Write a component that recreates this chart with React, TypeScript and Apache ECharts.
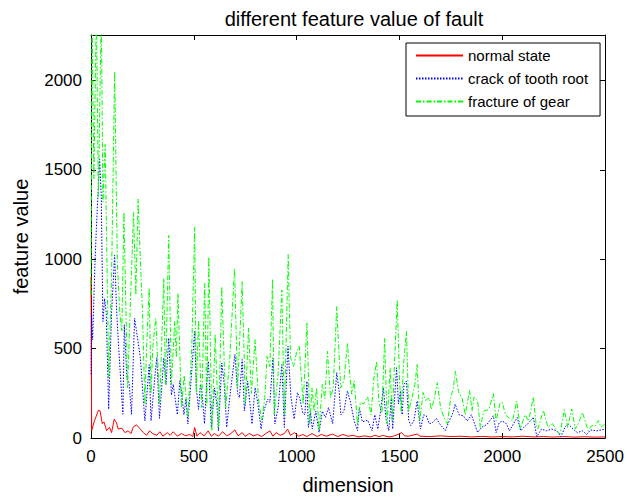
import React, { useEffect, useRef } from "react";
import * as echarts from "echarts";

const titleText = "different feature value of fault";
const xName = "dimension";
const yName = "feature value";
const seriesNames = ["normal state", "crack of tooth root", "fracture of gear"];
const xTicks = [0, 500, 1000, 1500, 2000, 2500];
const yTicks = [0, 500, 1000, 1500, 2000];

const normalPoints: [number, number][] = [
  [0, 900], [3, 40], [15, 90], [36, 155], [44, 152], [55, 80], [63, 90], [76, 41], [90, 60], [100, 30],
  [113, 106], [124, 85], [132, 50], [150, 55], [165, 30], [180, 40], [195, 25], [205, 60], [221, 74], [240, 50],
  [255, 30], [270, 15], [285, 40], [300, 25], [320, 15], [335, 35], [350, 10], [370, 30], [385, 15], [400, 35],
  [420, 10], [440, 25], [460, 12], [480, 20], [495, 8], [504, 59], [515, 10], [530, 30], [550, 12], [570, 40],
  [585, 10], [600, 25], [620, 10], [640, 35], [660, 12], [680, 25], [700, 45], [715, 12], [735, 30], [750, 10],
  [770, 25], [790, 12], [810, 20], [830, 8], [850, 25], [870, 40], [885, 10], [900, 30], [920, 15], [940, 25],
  [956, 50], [970, 15], [990, 30], [1010, 10], [1030, 20], [1050, 8], [1075, 25], [1100, 8], [1120, 20], [1145, 10],
  [1175, 22], [1200, 8], [1225, 20], [1250, 10], [1275, 15], [1300, 6], [1330, 12], [1360, 6], [1380, 15], [1400, 8],
  [1420, 14], [1450, 6], [1470, 10], [1497, 22], [1510, 30], [1525, 12], [1545, 10], [1586, 22], [1600, 10], [1650, 8],
  [1700, 12], [1750, 8], [1800, 10], [1850, 6], [1900, 9], [1950, 6], [2000, 8], [2050, 6], [2100, 10], [2150, 6],
  [2200, 8], [2250, 5], [2300, 8], [2350, 5], [2400, 7], [2450, 5], [2500, 6],
];

const crackPoints: [number, number][] = [
  [0, 356], [3, 689], [8, 550], [20, 1000], [26, 1170], [42, 1559], [50, 1350], [58, 652], [66, 780], [74, 700],
  [86, 161], [100, 700], [115, 1022], [125, 700], [135, 500], [155, 133], [162, 633], [175, 330], [185, 310], [197, 133],
  [212, 670], [221, 600], [240, 450], [262, 96], [283, 410], [292, 96], [310, 340], [320, 450], [333, 110], [345, 300],
  [354, 448], [365, 300], [378, 559], [391, 240], [400, 300], [420, 130], [432, 320], [440, 260], [452, 130], [462, 220],
  [471, 78], [492, 410], [504, 596], [512, 280], [523, 160], [532, 300], [540, 250], [552, 80], [562, 300], [571, 430],
  [585, 59], [601, 280], [612, 190], [620, 40], [636, 420], [648, 300], [660, 60], [678, 260], [700, 467], [713, 250],
  [722, 226], [735, 439], [746, 152], [762, 318], [783, 78], [798, 282], [812, 190], [827, 50], [840, 150], [859, 217],
  [870, 200], [885, 448], [894, 78], [910, 170], [928, 411], [940, 59], [958, 513], [972, 230], [988, 106], [1004, 254],
  [1015, 225], [1030, 140], [1040, 130], [1050, 318], [1057, 60], [1068, 140], [1076, 50], [1093, 150], [1109, 31], [1125, 150],
  [1140, 115], [1155, 170], [1175, 80], [1195, 365], [1207, 260], [1215, 130], [1230, 150], [1247, 263], [1262, 200], [1280, 95],
  [1296, 41], [1305, 170], [1320, 90], [1345, 100], [1367, 41], [1380, 130], [1395, 50], [1408, 150], [1422, 281], [1434, 110],
  [1448, 41], [1460, 220], [1467, 50], [1486, 393], [1495, 190], [1505, 263], [1513, 130], [1522, 300], [1534, 319], [1545, 100],
  [1555, 70], [1570, 95], [1586, 207], [1602, 50], [1618, 130], [1630, 125], [1645, 80], [1660, 85], [1680, 110], [1695, 80],
  [1723, 41], [1740, 90], [1760, 140], [1771, 189], [1790, 130], [1810, 125], [1830, 95], [1850, 130], [1865, 80], [1880, 31],
  [1900, 60], [1925, 75], [1957, 124], [1970, 30], [1985, 85], [2000, 95], [2020, 80], [2035, 40], [2055, 80], [2073, 115],
  [2090, 40], [2105, 60], [2125, 80], [2151, 115], [2168, 7], [2190, 50], [2215, 40], [2240, 50], [2265, 40], [2285, 7],
  [2305, 60], [2320, 78], [2345, 50], [2365, 30], [2390, 40], [2410, 20], [2430, 45], [2460, 40], [2480, 45], [2498, 50],
];

const gearPoints: [number, number][] = [
  [0, 800], [5, 2400], [14, 1450], [26, 2400], [36, 1350], [50, 2400], [58, 1320], [69, 1643], [86, 337], [100, 900],
  [115, 2050], [128, 985], [140, 700], [150, 600], [160, 1263], [178, 281], [190, 700], [207, 1263], [218, 800], [229, 1337],
  [240, 1000], [250, 720], [262, 189], [270, 500], [283, 837], [292, 250], [300, 500], [315, 670], [334, 189], [354, 893],
  [362, 300], [378, 1133], [391, 300], [407, 652], [415, 450], [423, 809], [440, 170], [453, 350], [471, 115], [490, 500],
  [504, 1180], [512, 250], [523, 660], [538, 170], [553, 865], [563, 180], [573, 1013], [588, 40], [604, 578], [620, 60],
  [636, 846], [655, 170], [675, 450], [698, 948], [713, 280], [735, 874], [751, 189], [766, 615], [780, 250], [798, 550],
  [814, 220], [830, 100], [845, 220], [856, 457], [870, 400], [883, 889], [891, 133], [910, 360], [928, 828], [940, 130],
  [959, 1026], [970, 450], [985, 400], [1001, 485], [1013, 513], [1025, 300], [1032, 190], [1050, 643], [1064, 78], [1075, 280],
  [1085, 150], [1097, 280], [1109, 41], [1125, 300], [1137, 220], [1150, 485], [1165, 225], [1178, 280], [1195, 735], [1214, 280],
  [1230, 320], [1247, 531], [1258, 360], [1268, 245], [1280, 320], [1296, 78], [1310, 200], [1325, 190], [1345, 230], [1362, 130],
  [1375, 330], [1389, 430], [1400, 200], [1415, 140], [1428, 559], [1440, 80], [1455, 390], [1465, 100], [1473, 337], [1489, 772],
  [1500, 340], [1508, 150], [1521, 430], [1534, 596], [1545, 150], [1562, 230], [1575, 300], [1586, 411], [1599, 96], [1615, 255],
  [1627, 210], [1645, 225], [1654, 160], [1667, 210], [1684, 309], [1700, 170], [1716, 115], [1733, 80], [1750, 230], [1762, 280],
  [1772, 374], [1787, 260], [1805, 220], [1820, 130], [1841, 267], [1853, 150], [1863, 230], [1880, 211], [1893, 59], [1910, 150],
  [1935, 160], [1957, 248], [1970, 95], [1990, 198], [2001, 198], [2015, 130], [2035, 110], [2050, 95], [2070, 207], [2088, 50],
  [2110, 130], [2128, 95], [2151, 230], [2165, 70], [2173, 50], [2200, 155], [2222, 60], [2245, 80], [2260, 50], [2281, 22],
  [2302, 158], [2318, 60], [2338, 163], [2355, 50], [2370, 80], [2390, 143], [2418, 40], [2435, 70], [2450, 65], [2468, 98],
  [2480, 60], [2498, 78],
];

const FONT = "'Liberation Sans', Arial, Helvetica, sans-serif";

export default function App() {
  const ref = useRef<HTMLDivElement>(null);
  useEffect(() => {
    if (!ref.current) return;
    const chart = echarts.init(ref.current, undefined, { renderer: "svg" });
    const xMin = xTicks[0];
    const xMax = xTicks[xTicks.length - 1];
    const yMax = 2255;
    const tickStyle = { show: true, inside: true, length: 5, lineStyle: { color: "#000", width: 1 } };
    const lineAxis = { show: true, onZero: false, lineStyle: { color: "#000", width: 1 } };
    const label = { color: "#000", fontSize: 17, fontFamily: FONT };
    chart.setOption({
      animation: false,
      backgroundColor: "#fff",
      title: {
        text: titleText,
        left: 349,
        top: 4,
        textAlign: "center",
        textStyle: { color: "#000", fontSize: 20, fontWeight: "normal", fontFamily: FONT },
      },
      legend: {
        orient: "vertical",
        left: 406,
        top: 43,
        padding: [5, 12, 7, 9],
        itemWidth: 47,
        itemHeight: 14,
        itemGap: 8,
        backgroundColor: "#fff",
        borderColor: "#000",
        borderWidth: 1,
        borderRadius: 0,
        itemStyle: { opacity: 0, borderWidth: 0 },
        textStyle: { color: "#000", fontSize: 15, fontFamily: FONT, lineHeight: 14 },
        data: seriesNames,
      },
      grid: { left: 91, right: 20, top: 35, bottom: 59, containLabel: false },
      xAxis: [
        {
          type: "value",
          min: xMin,
          max: xMax,
          interval: 500,
          name: xName,
          nameLocation: "middle",
          nameGap: 37,
          nameTextStyle: { color: "#000", fontSize: 20, fontFamily: FONT },
          axisLine: lineAxis,
          axisTick: tickStyle,
          axisLabel: { ...label, margin: 10, formatter: (v: number) => String(v) },
          splitLine: { show: false },
        },
        {
          type: "value",
          position: "top",
          min: xMin,
          max: xMax,
          interval: 500,
          axisLine: lineAxis,
          axisTick: tickStyle,
          axisLabel: { show: false },
          splitLine: { show: false },
        },
      ],
      yAxis: [
        {
          type: "value",
          min: 0,
          max: yMax,
          interval: 500,
          name: yName,
          nameLocation: "middle",
          nameGap: 60,
          nameTextStyle: { color: "#000", fontSize: 20, fontFamily: FONT },
          axisLine: lineAxis,
          axisTick: tickStyle,
          axisLabel: {
            ...label,
            margin: 9,
            formatter: (v: number) => (yTicks.includes(v) ? String(v) : ""),
          },
          splitLine: { show: false },
        },
        {
          type: "value",
          position: "right",
          min: 0,
          max: yMax,
          interval: 500,
          axisLine: lineAxis,
          axisTick: tickStyle,
          axisLabel: { show: false },
          splitLine: { show: false },
        },
      ],
      series: [
        {
          name: seriesNames[0],
          type: "line",
          data: normalPoints,
          symbol: "none",
          clip: true,
          lineStyle: { color: "#ff0000", width: 1 },
          itemStyle: { color: "#ff0000" },
        },
        {
          name: seriesNames[1],
          type: "line",
          data: crackPoints,
          symbol: "none",
          clip: true,
          lineStyle: { color: "#0000ff", width: 1, type: [1.5, 1.5] },
          itemStyle: { color: "#0000ff" },
        },
        {
          name: seriesNames[2],
          type: "line",
          data: gearPoints,
          symbol: "none",
          clip: true,
          lineStyle: { color: "#00ff00", width: 1, type: [5, 2, 1.5, 2] },
          itemStyle: { color: "#00ff00" },
        },
      ],
    });
    return () => chart.dispose();
  }, []);
  return (
    <div
      ref={ref}
      style={{ position: "fixed", left: 0, top: 0, width: 627, height: 500, background: "#fff" }}
    />
  );
}
